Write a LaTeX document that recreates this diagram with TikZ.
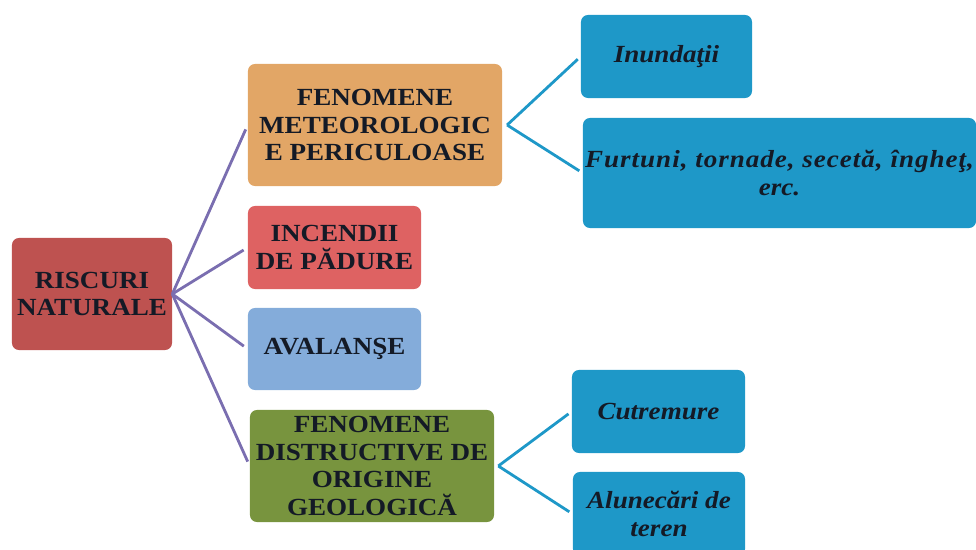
\documentclass[tikz,border=0pt]{standalone}
\usepackage{fontspec}
\setmainfont{Liberation Serif}[FakeStretch=1.1]
\usetikzlibrary{positioning}
\definecolor{rootred}{RGB}{190,82,80}
\definecolor{meteotan}{RGB}{226,166,102}
\definecolor{firered}{RGB}{222,98,98}
\definecolor{avalblue}{RGB}{132,172,218}
\definecolor{geogreen}{RGB}{120,148,62}
\definecolor{leafblue}{RGB}{30,152,200}
\definecolor{linkpurple}{RGB}{122,110,176}
\definecolor{textdark}{RGB}{20,26,38}
\tikzstyle{block} = [rectangle, rounded corners=5pt, align=center, inner sep=0pt, text=textdark, font=\bfseries\fontsize{17.5}{19.5}\selectfont]
\tikzstyle{leaf} = [block, fill=leafblue, font=\bfseries\itshape\fontsize{17.5}{20.5}\selectfont]
\tikzstyle{link} = [draw=linkpurple, line width=2pt, shorten >=0.12cm]
\tikzstyle{branch} = [draw=leafblue, line width=2pt, shorten >=0.1cm]

\begin{document}
\begin{tikzpicture}[x=0.025cm, y=-0.025cm]
\useasboundingbox (0,0) rectangle (976,550);

\node [block, fill=rootred, minimum width=4cm, minimum height=2.8cm] (root) at (92,294) {RISCURI\\NATURALE};

\node [block, fill=meteotan, minimum width=6.35cm, minimum height=3.05cm] (meteo) at (375,125) {FENOMENE\\METEOROLOGIC\\E PERICULOASE};
\node [block, fill=firered, minimum width=4.325cm, minimum height=2.075cm] (fire) at (334.5,247.5) {INCENDII\\DE PĂDURE};
\node [block, fill=avalblue, minimum width=4.325cm, minimum height=2.05cm] (aval) at (334.5,349) {AVALANŞE};
\node [block, fill=geogreen, minimum width=6.1cm, minimum height=2.8cm] (geo) at (372,466) {FENOMENE\\DISTRUCTIVE DE\\ORIGINE\\GEOLOGICĂ};

\node [leaf, minimum width=4.275cm, minimum height=2.075cm] (inund) at (666.5,56.5) {Inundaţii};
\node [leaf, minimum width=9.825cm, minimum height=2.75cm] (furt) at (779.5,173) {\addfontfeature{LetterSpace=4}Furtuni, tornade, secetă, îngheţ,\\erc.};
\node [leaf, minimum width=4.325cm, minimum height=2.075cm] (cutr) at (658.5,411.5) {Cutremure};
\node [leaf, minimum width=4.3cm, minimum height=2.1cm] (alun) at (659,514) {Alunecări de\\teren};

\coordinate [right=0.12cm of meteo] (meteoC);
\coordinate [right=0.1cm of geo] (geoC);

\draw [link] (root.east) -- (meteo.west);
\draw [link] (root.east) -- (fire.west);
\draw [link] (root.east) -- (aval.west);
\draw [link] (root.east) -- (geo.west);

\draw [branch] (meteoC) -- (inund.west);
\draw [branch] (meteoC) -- (furt.west);
\draw [branch] (geoC) -- (cutr.west);
\draw [branch] (geoC) -- (alun.west);

\end{tikzpicture}
\end{document}
